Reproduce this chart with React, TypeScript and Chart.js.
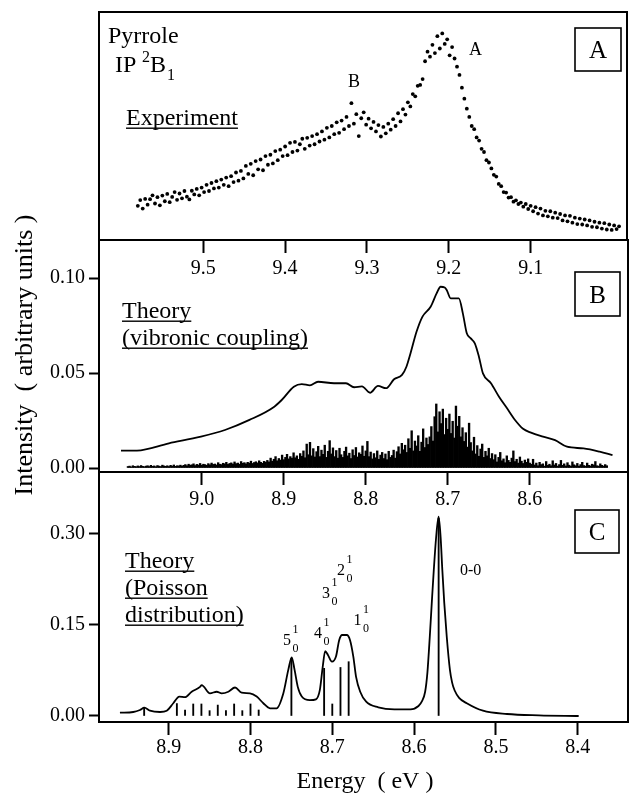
import React, { useEffect, useRef } from 'react';
import { Chart, registerables } from 'chart.js';
Chart.register(...registerables);

const W = 631;
const H = 795;
const FONT = '"Liberation Serif", "Times New Roman", serif';

// ---------- Panel A: experiment (photoelectron spectrum), energy in eV, intensity in arbitrary units ----------
const expEnergy = [
  9.580,9.577,9.574,9.571,9.568,9.565,9.562,9.559,9.556,9.553,
  9.550,9.547,9.544,9.541,9.538,9.535,9.532,9.529,9.526,9.523,
  9.520,9.517,9.514,9.511,9.508,9.505,9.502,9.499,9.496,9.493,
  9.490,9.487,9.484,9.481,9.478,9.475,9.472,9.469,9.466,9.463,
  9.460,9.457,9.454,9.451,9.448,9.445,9.442,9.439,9.436,9.433,
  9.430,9.427,9.424,9.421,9.418,9.415,9.412,9.409,9.406,9.403,
  9.400,9.397,9.394,9.391,9.388,9.385,9.382,9.379,9.376,9.373,
  9.370,9.367,9.364,9.361,9.358,9.355,9.352,9.349,9.346,9.343,
  9.340,9.337,9.334,9.331,9.328,9.325,9.322,9.319,9.316,9.313,
  9.310,9.307,9.304,9.301,9.298,9.295,9.292,9.289,9.286,9.283,
  9.280,9.277,9.274,9.271,9.268,9.265,9.262,9.259,9.256,9.253,
  9.250,9.247,9.244,9.241,9.238,9.235,9.232,9.229,9.226,9.223,
  9.220,9.217,9.214,9.211,9.208,9.205,9.202,9.199,9.196,9.193,
  9.190,9.187,9.184,9.181,9.178,9.175,9.172,9.169,9.166,9.163,
  9.160,9.157,9.154,9.151,9.148,9.145,9.142,9.139,9.136,9.133,
  9.130,9.127,9.124,9.121,9.118,9.115,9.112,9.109,9.106,9.103,
  9.100,9.097,9.094,9.091,9.088,9.085,9.082,9.079,9.076,9.073,
  9.070,9.067,9.064,9.061,9.058,9.055,9.052,9.049,9.046,9.043,
  9.040,9.037,9.034,9.031,9.028,9.025,9.022,9.019,9.016,9.013,
  9.010,9.007,9.004,9.001,8.998,8.995,8.992,
];
const expIntensity = [
  15.0,17.5,13.8,18.0,15.5,17.9,19.6,16.0,18.8,15.2,
  19.5,17.0,20.2,16.6,18.9,21.0,17.6,20.4,18.3,21.5,
  19.0,17.8,21.6,20.0,22.4,19.6,23.0,21.0,24.2,21.5,
  25.0,22.6,25.8,23.0,26.5,24.2,27.4,23.6,28.0,25.4,
  29.6,26.0,30.3,27.0,32.5,29.0,33.4,28.4,34.6,31.0,
  35.3,30.6,36.8,33.0,37.4,33.6,39.0,35.0,39.6,36.8,
  41.0,37.2,42.6,38.6,43.0,39.2,42.0,44.4,40.0,44.8,
  41.4,45.6,42.0,46.4,43.2,47.6,44.0,49.2,45.0,50.0,
  46.4,51.6,47.0,52.4,48.6,54.0,50.0,60.0,51.0,55.2,
  45.6,53.4,56.0,50.6,53.2,49.0,51.8,47.6,50.4,45.4,
  49.6,46.8,51.0,48.4,53.0,50.0,55.6,52.0,57.4,55.0,
  60.4,58.6,64.0,63.0,67.6,68.0,70.6,78.4,82.6,80.4,
  85.6,82.0,89.4,84.0,90.6,86.0,88.0,81.0,84.6,79.6,
  76.0,72.4,66.8,62.0,57.6,54.0,50.0,48.6,45.0,43.6,
  40.0,38.6,35.0,34.0,31.4,28.6,27.8,24.6,23.6,21.0,
  20.8,18.6,18.8,16.8,17.4,15.8,16.4,14.6,15.8,13.6,
  15.0,12.6,14.4,11.6,13.8,10.8,12.8,10.4,12.6,9.8,
  12.0,9.6,11.4,8.6,10.8,8.2,10.6,7.6,9.8,7.0,
  9.4,6.8,9.0,6.4,8.6,5.8,8.0,5.6,7.6,5.0,
  7.4,4.6,6.8,4.4,6.4,4.8,6.0,
];

// ---------- Panel B: theory (vibronic coupling) ----------
const vcEnergy = [
  9.0985,9.079,9.040,9.001,8.9717,8.9418,8.9124,8.9025,8.8877,8.878,
  8.8681,8.8582,8.8387,8.8241,8.8143,8.8046,8.7948,8.7851,8.7753,8.7655,
  8.7558,8.7504,8.7454,8.7381,8.7308,8.7209,8.7136,8.7087,8.7037,8.7013,
  8.6964,8.6865,8.6816,8.6768,8.6719,8.667,8.662,8.6571,8.6473,8.6375,
  8.6277,8.618,8.6082,8.5985,8.5838,8.5692,8.5546,8.5345,8.5148,8.4991,
];
const vcIntensity = [
  0.0091,0.0092,0.013,0.0165,0.020,0.0253,0.032,0.0358,0.0428,0.0442,
  0.0435,0.0454,0.0446,0.0446,0.0425,0.043,0.0396,0.0432,0.042,0.0467,
  0.049,0.0533,0.0604,0.0717,0.0797,0.0849,0.0919,0.0954,0.095,0.0937,
  0.0893,0.0893,0.0814,0.0709,0.0682,0.0656,0.0586,0.0498,0.0446,0.0375,
  0.0314,0.0253,0.0207,0.0186,0.0165,0.0147,0.0112,0.0103,0.0086,0.0068,
];
const vcStickEnergy = [
  9.090,9.088,9.086,9.084,9.082,9.080,9.078,9.076,9.074,9.072,
  9.070,9.068,9.066,9.064,9.062,9.060,9.058,9.056,9.054,9.052,
  9.050,9.048,9.046,9.044,9.042,9.040,9.038,9.036,9.034,9.032,
  9.030,9.028,9.026,9.024,9.022,9.020,9.018,9.016,9.014,9.012,
  9.010,9.008,9.006,9.004,9.002,9.000,8.998,8.996,8.994,8.992,
  8.990,8.988,8.986,8.984,8.982,8.980,8.978,8.976,8.974,8.972,
  8.970,8.968,8.966,8.964,8.962,8.960,8.958,8.956,8.954,8.952,
  8.950,8.948,8.946,8.944,8.942,8.940,8.938,8.936,8.934,8.932,
  8.930,8.928,8.926,8.924,8.922,8.920,8.918,8.916,8.914,8.912,
  8.910,8.908,8.906,8.904,8.902,8.900,8.898,8.896,8.894,8.892,
  8.890,8.888,8.886,8.884,8.882,8.880,8.878,8.876,8.874,8.872,
  8.870,8.868,8.866,8.864,8.862,8.860,8.858,8.856,8.854,8.852,
  8.850,8.848,8.846,8.844,8.842,8.840,8.838,8.836,8.834,8.832,
  8.830,8.828,8.826,8.824,8.822,8.820,8.818,8.816,8.814,8.812,
  8.810,8.808,8.806,8.804,8.802,8.800,8.798,8.796,8.794,8.792,
  8.790,8.788,8.786,8.784,8.782,8.780,8.778,8.776,8.774,8.772,
  8.770,8.768,8.766,8.764,8.762,8.760,8.758,8.756,8.754,8.752,
  8.750,8.748,8.746,8.744,8.742,8.740,8.738,8.736,8.734,8.732,
  8.730,8.728,8.726,8.724,8.722,8.720,8.718,8.716,8.714,8.712,
  8.710,8.708,8.706,8.704,8.702,8.700,8.698,8.696,8.694,8.692,
  8.690,8.688,8.686,8.684,8.682,8.680,8.678,8.676,8.674,8.672,
  8.670,8.668,8.666,8.664,8.662,8.660,8.658,8.656,8.654,8.652,
  8.650,8.648,8.646,8.644,8.642,8.640,8.638,8.636,8.634,8.632,
  8.630,8.628,8.626,8.624,8.622,8.620,8.618,8.616,8.614,8.612,
  8.610,8.608,8.606,8.604,8.602,8.600,8.598,8.596,8.594,8.592,
  8.590,8.588,8.586,8.584,8.582,8.580,8.578,8.576,8.574,8.572,
  8.570,8.568,8.566,8.564,8.562,8.560,8.558,8.556,8.554,8.552,
  8.550,8.548,8.546,8.544,8.542,8.540,8.538,8.536,8.534,8.532,
  8.530,8.528,8.526,8.524,8.522,8.520,8.518,8.516,8.514,8.512,
  8.510,8.508,8.506,
];
// stick heights in units of 1e-3
const vcStickHeight = [
  0.8,1.0,0.6,1.2,0.9,0.7,1.1,0.8,1.3,0.9,0.7,1.0,1.2,0.8,1.4,0.9,1.1,0.7,1.3,1.0,0.8,1.5,1.1,0.9,1.2,0.8,1.4,1.0,1.6,0.9,1.2,1.1,1.5,1.0,
  1.4,1.8,1.2,2.0,1.5,1.7,2.2,1.3,1.9,1.6,2.4,1.5,2.0,1.8,1.4,2.3,1.7,2.6,1.9,2.1,1.6,2.8,2.0,1.8,2.5,2.2,3.0,1.9,2.4,2.7,2.1,3.2,2.3,2.6,2.0,3.4,2.5,2.8,2.2,3.0,2.6,3.6,2.4,2.9,3.3,2.7,3.8,3.0,2.5,3.5,3.1,
  4.0,3.2,5.2,3.6,4.6,6.0,3.8,5.0,4.2,6.8,4.4,5.6,7.2,4.8,6.0,5.2,8.0,5.4,6.4,4.6,7.6,
  6.2,9.0,5.4,12.6,7.0,13.5,6.4,10.2,5.8,8.6,11.4,6.0,9.4,7.2,12.0,5.6,8.8,14.4,7.4,10.6,
  6.0,9.2,5.2,10.4,7.0,5.6,8.8,11.0,6.4,7.8,5.0,9.6,6.6,10.8,5.8,8.0,7.2,11.6,6.2,9.0,
  14.0,6.0,8.4,4.8,7.6,5.4,9.0,4.6,6.8,8.2,5.0,7.4,4.4,8.8,5.6,6.6,9.4,5.2,
  8.6,11.2,7.4,13.0,9.6,12.0,8.2,15.4,10.4,19.6,9.0,14.2,11.6,17.0,8.8,13.6,20.6,10.8,15.8,12.4,
  16.4,21.8,14.2,27.0,33.7,19.0,29.6,23.4,31.0,17.6,26.2,20.4,
  28.4,18.2,24.6,15.8,32.6,22.0,27.2,16.4,21.2,14.0,
  18.6,11.0,23.6,13.4,9.0,16.2,7.4,11.8,6.2,10.0,12.6,5.6,8.8,6.4,10.4,5.0,7.6,
  4.4,7.0,3.2,5.6,8.2,3.8,4.8,2.8,6.4,4.0,3.0,5.2,9.0,3.4,4.6,2.6,5.8,3.6,2.4,4.2,3.0,4.8,2.6,
  2.0,4.6,1.6,2.6,1.2,3.0,1.8,2.2,1.0,3.4,1.4,2.0,1.2,3.8,1.6,2.4,1.0,1.8,4.0,1.4,2.2,1.1,2.8,1.5,1.0,3.2,1.7,1.2,2.4,1.0,1.8,3.0,1.3,1.0,2.6,1.4,1.1,2.0,1.6,3.4,1.2,1.0,2.2,1.4,1.0,1.8,1.2,
];

// ---------- Panel C: theory (Poisson distribution) ----------
const poisEnergy = [
  8.9596,8.9433,8.9351,8.9298,8.9229,8.9106,8.9024,8.8944,8.887,8.880,
  8.8719,8.8617,8.8597,8.8495,8.8413,8.8352,8.8271,8.8189,8.8108,8.8006,
  8.7924,8.7843,8.7762,8.768,8.7599,8.7538,8.7496,8.7461,8.7422,8.7373,
  8.7274,8.720,8.7152,8.7117,8.7087,8.7053,8.7004,8.6955,8.6916,8.688,
  8.6822,8.6783,8.6743,8.671,8.6659,8.6586,8.6438,8.6241,8.6044,8.5946,
  8.5905,8.5865,8.5837,8.5808,8.5784,8.5759,8.573,8.570,8.5676,8.5655,
  8.5631,8.5601,8.5562,8.5535,8.5504,8.545,8.5356,8.5158,8.4864,8.4473,
  8.3988,
];
const poisIntensity = [
  0.0054,0.0066,0.0099,0.0137,0.0087,0.0066,0.0087,0.021,0.032,0.031,
  0.040,0.048,0.051,0.0374,0.040,0.0374,0.040,0.047,0.0385,0.0374,
  0.032,0.021,0.0127,0.0127,0.037,0.076,0.0967,0.076,0.048,0.032,
  0.026,0.0275,0.043,0.081,0.107,0.1005,0.0895,0.098,0.125,0.1335,
  0.1335,0.125,0.098,0.065,0.040,0.0236,0.0143,0.011,0.011,0.0165,
  0.024,0.040,0.072,0.131,0.186,0.241,0.2955,0.3285,0.2955,0.241,
  0.186,0.131,0.076,0.055,0.042,0.030,0.021,0.0087,0.0033,0.0011,
  0.0,
];
const poisStickEnergy = [8.93, 8.89, 8.88, 8.87, 8.86, 8.85, 8.84, 8.83, 8.82, 8.81, 8.80, 8.79, 8.75, 8.71, 8.70, 8.69, 8.68, 8.57];
const poisStickHeight = [0.013, 0.0205, 0.0099, 0.0198, 0.0198, 0.0088, 0.018, 0.0088, 0.0198, 0.0088, 0.0198, 0.0099, 0.095, 0.0786, 0.0198, 0.080, 0.0895, 0.326];

// ---------- Axes ----------
const xTicksA = [9.5, 9.4, 9.3, 9.2, 9.1];
const xTicksB = [9.0, 8.9, 8.8, 8.7, 8.6];
const xTicksC = [8.9, 8.8, 8.7, 8.6, 8.5, 8.4];
const yTicksB = [0, 0.05, 0.1];
const yTicksC = [0, 0.15, 0.3];

const pts = (xs: number[], ys: number[], k = 1) => xs.map((x, i) => ({ x, y: ys[i] * k }));

function xAxis(min: number, max: number, ticks: number[], pad: number, height: number) {
  return {
    type: 'linear',
    reverse: true,
    offset: false,
    min,
    max,
    afterBuildTicks: (s: any) => { s.ticks = ticks.map((v) => ({ value: v })); },
    afterFit: (s: any) => { s.height = height; },
    ticks: {
      font: { family: FONT, size: 20 },
      color: '#000',
      padding: pad,
      maxRotation: 0,
      autoSkip: false,
      callback: (v: any) => Number(v).toFixed(1),
    },
    grid: { display: true, offset: false, drawOnChartArea: false, drawTicks: true, tickLength: 13, tickWidth: 2, tickColor: '#000', color: '#000' },
    border: { display: false },
  };
}

function yAxis(min: number, max: number, ticks: number[]) {
  return {
    type: 'linear',
    min,
    max,
    afterBuildTicks: (s: any) => { s.ticks = ticks.map((v) => ({ value: v })); },
    afterFit: (s: any) => { s.width = 99; },
    ticks: {
      font: { family: FONT, size: 20 },
      color: '#000',
      padding: 4,
      callback: (v: any) => Number(v).toFixed(2),
    },
    grid: { display: true, offset: false, drawOnChartArea: false, drawTicks: true, tickLength: 10, tickWidth: 2, tickColor: '#000', color: '#000' },
    border: { display: false },
  };
}

type Txt = { t: string; x: number; y: number; s: number; a?: CanvasTextAlign; u?: boolean; r?: boolean };
type Box = { x: number; y: number; w: number; h: number; t: string; ty: number };

function deco(texts: Txt[], boxes: Box[]) {
  return {
    id: 'deco',
    afterDraw(chart: any) {
      const { ctx, chartArea: ca } = chart;
      ctx.save();
      ctx.strokeStyle = '#000';
      ctx.lineWidth = 2;
      ctx.strokeRect(ca.left, ca.top, ca.right - ca.left, ca.bottom - ca.top);
      boxes.forEach((b) => {
        ctx.fillStyle = '#fff';
        ctx.fillRect(b.x, b.y, b.w, b.h);
        ctx.lineWidth = 1.6;
        ctx.strokeRect(b.x, b.y, b.w, b.h);
        ctx.fillStyle = '#000';
        ctx.font = `25px ${FONT}`;
        ctx.textAlign = 'center';
        ctx.textBaseline = 'alphabetic';
        ctx.fillText(b.t, b.x + b.w / 2, b.ty);
      });
      texts.forEach((it) => {
        ctx.save();
        ctx.fillStyle = '#000';
        ctx.font = `${it.s}px ${FONT}`;
        ctx.textAlign = it.a || 'left';
        ctx.textBaseline = 'alphabetic';
        if (it.r) {
          ctx.translate(it.x, it.y);
          ctx.rotate(-Math.PI / 2);
          ctx.fillText(it.t, 0, 0);
        } else {
          ctx.fillText(it.t, it.x, it.y);
          if (it.u) {
            const w = ctx.measureText(it.t).width;
            ctx.fillRect(it.x, it.y + 2.5, w, 1.4);
          }
        }
        ctx.restore();
      });
      ctx.restore();
    },
  };
}

const baseOpts = {
  animation: false,
  responsive: false,
  events: [],
  plugins: { legend: { display: false }, tooltip: { enabled: false } },
};

function configA(): any {
  return {
    type: 'scatter',
    data: {
      datasets: [
        { data: pts(expEnergy, expIntensity), pointRadius: 1.9, backgroundColor: '#000', borderWidth: 0 },
      ],
    },
    options: {
      ...baseOpts,
      layout: { padding: { left: 99, top: 12, right: 3, bottom: H - 240 - 50 } },
      scales: {
        x: xAxis(8.9823, 9.6274, xTicksA, 4, 50),
        y: { display: false, min: 0, max: 100 },
      },
    },
    plugins: [
      deco(
        [
          { t: 'Pyrrole', x: 108, y: 43, s: 24 },
          { t: 'IP', x: 115, y: 72, s: 24 },
          { t: '2', x: 142, y: 62, s: 16 },
          { t: 'B', x: 150, y: 72, s: 24 },
          { t: '1', x: 167, y: 80, s: 16 },
          { t: 'Experiment', x: 126, y: 125, s: 24, u: true },
          { t: 'A', x: 469, y: 55, s: 18 },
          { t: 'B', x: 348, y: 87, s: 18 },
        ],
        [{ x: 575, y: 28, w: 46, h: 43, t: 'A', ty: 58 }],
      ),
    ],
  };
}

function configB(): any {
  return {
    type: 'line',
    data: {
      datasets: [
        {
          type: 'line',
          data: pts(vcEnergy, vcIntensity),
          borderColor: '#000',
          borderWidth: 1.8,
          pointRadius: 0,
          cubicInterpolationMode: 'monotone',
          fill: false,
        },
        {
          type: 'bar',
          data: pts(vcStickEnergy, vcStickHeight, 0.001),
          backgroundColor: '#000',
          borderWidth: 0,
          barThickness: 1.7,
          grouped: false,
        },
      ],
    },
    options: {
      ...baseOpts,
      layout: { padding: { left: 0, top: 240, right: 3, bottom: H - 472 - 50 } },
      scales: {
        x: xAxis(8.4802, 9.1253, xTicksB, 3, 50),
        y: yAxis(-0.0021, 0.12, yTicksB),
      },
    },
    plugins: [
      deco(
        [
          { t: 'Theory', x: 122, y: 318, s: 24, u: true },
          { t: '(vibronic coupling)', x: 122, y: 345, s: 24, u: true },
          { t: 'Intensity  ( arbitrary units )', x: 32, y: 355, s: 26, a: 'center', r: true },
        ],
        [{ x: 575, y: 272, w: 45, h: 44, t: 'B', ty: 303 }],
      ),
    ],
  };
}

function configC(): any {
  const lab = (d: string, x: number, y: number): Txt[] => [
    { t: d, x, y, s: 16 },
    { t: '1', x: x + 9.5, y: y - 12, s: 12 },
    { t: '0', x: x + 9.5, y: y + 7, s: 12 },
  ];
  return {
    type: 'line',
    data: {
      datasets: [
        {
          type: 'line',
          data: pts(poisEnergy, poisIntensity),
          borderColor: '#000',
          borderWidth: 1.8,
          pointRadius: 0,
          cubicInterpolationMode: 'monotone',
          fill: false,
        },
        {
          type: 'bar',
          data: pts(poisStickEnergy, poisStickHeight),
          backgroundColor: '#000',
          borderWidth: 0,
          barThickness: 1.2,
          grouped: false,
        },
      ],
    },
    options: {
      ...baseOpts,
      layout: { padding: { left: 0, top: 472, right: 3, bottom: H - 722 - 40 } },
      scales: {
        x: xAxis(8.3385, 8.9852, xTicksC, 1, 40),
        y: yAxis(-0.0099, 0.4022, yTicksC),
      },
    },
    plugins: [
      deco(
        [
          { t: 'Theory', x: 125, y: 568, s: 24, u: true },
          { t: '(Poisson', x: 125, y: 595, s: 24, u: true },
          { t: 'distribution)', x: 125, y: 622, s: 24, u: true },
          { t: '0-0', x: 460, y: 575, s: 16 },
          ...lab('5', 283, 645),
          ...lab('4', 314, 638),
          ...lab('3', 322, 598),
          ...lab('2', 337, 575),
          ...lab('1', 353.5, 625),
          { t: 'Energy  ( eV )', x: 365, y: 788, s: 24, a: 'center' },
        ],
        [{ x: 575, y: 510, w: 44, h: 43, t: 'C', ty: 540 }],
      ),
    ],
  };
}

export default function App() {
  const refA = useRef<HTMLCanvasElement>(null);
  const refB = useRef<HTMLCanvasElement>(null);
  const refC = useRef<HTMLCanvasElement>(null);

  useEffect(() => {
    const charts = [
      new Chart(refA.current as HTMLCanvasElement, configA()),
      new Chart(refB.current as HTMLCanvasElement, configB()),
      new Chart(refC.current as HTMLCanvasElement, configC()),
    ];
    return () => charts.forEach((c) => c.destroy());
  }, []);

  const cs: React.CSSProperties = { position: 'absolute', left: 0, top: 0, width: W, height: H };
  return (
    <div style={{ position: 'absolute', left: 0, top: 0, width: W, height: H, background: '#fff' }}>
      <canvas ref={refA} width={W} height={H} style={cs} />
      <canvas ref={refB} width={W} height={H} style={cs} />
      <canvas ref={refC} width={W} height={H} style={cs} />
    </div>
  );
}
